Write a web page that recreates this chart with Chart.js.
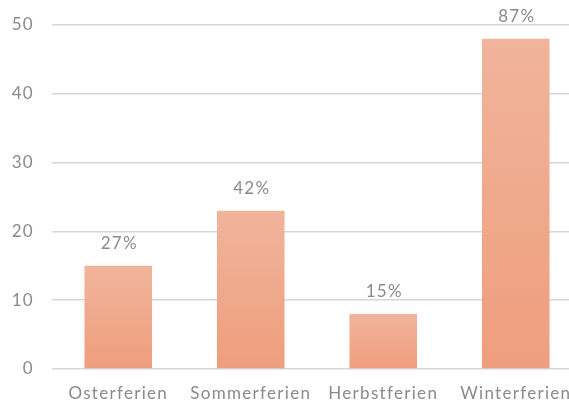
<!DOCTYPE html>
<html lang="de">
<head>
<meta charset="utf-8">
<title>Ferien</title>
<script src="https://cdn.jsdelivr.net/npm/chart.js@4.4.1/dist/chart.umd.min.js"></script>
<style>
  html, body { margin: 0; padding: 0; background: #fff; overflow: hidden; }
  #wrap { width: 569px; height: 406px; overflow: hidden; }
</style>
</head>
<body>
<div id="wrap"><canvas id="ferienChart" width="582" height="406"></canvas></div>
<script>
// ── data ──
const categories = ['Osterferien', 'Sommerferien', 'Herbstferien', 'Winterferien'];
const values = [15, 23, 8, 48];
const percentLabels = ['27%', '42%', '15%', '87%'];
const yTicks = [0, 10, 20, 30, 40, 50];

const textGrey = '#8a8a8a';
const fontFamily = "Lato, 'Open Sans', sans-serif";

// gradient per bar, light at top, darker at the base
function barGradient(context) {
    const chart = context.chart;
    const { ctx, chartArea, scales } = chart;
    if (!chartArea || !scales.y) return '#efa585';
    const top = scales.y.getPixelForValue(context.raw);
    const bottom = scales.y.getPixelForValue(0);
    const g = ctx.createLinearGradient(0, top, 0, bottom);
    g.addColorStop(0, '#f0b49b');
    g.addColorStop(1, '#ef9e7d');
    return g;
}

// wider tracking like the original typeface
const spacingPlugin = {
    id: 'spacing',
    beforeDraw(chart) { chart.ctx.letterSpacing = '1.3px'; }
};

// percentage text above each bar
const percentPlugin = {
    id: 'percentLabels',
    afterDatasetsDraw(chart) {
        const { ctx } = chart;
        const meta = chart.getDatasetMeta(0);
        ctx.save();
        ctx.font = '17px ' + fontFamily;
        ctx.fillStyle = textGrey;
        ctx.textAlign = 'center';
        ctx.textBaseline = 'bottom';
        meta.data.forEach(function (bar, i) {
            ctx.fillText(percentLabels[i], bar.x + 1, bar.y - 14);
        });
        ctx.restore();
    }
};

new Chart(document.getElementById('ferienChart'), {
    type: 'bar',
    data: {
        labels: categories,
        datasets: [{
            data: values,
            backgroundColor: barGradient,
            borderWidth: 0,
            categoryPercentage: 1,
            barPercentage: 0.51
        }]
    },
    options: {
        responsive: false,
        animation: false,
        layout: { padding: { top: 25, left: 0, right: 0, bottom: 0 } },
        plugins: {
            legend: { display: false },
            tooltip: { enabled: false }
        },
        scales: {
            x: {
                grid: { display: false, drawTicks: false },
                border: { display: false },
                ticks: { color: textGrey, font: { family: fontFamily, size: 17 }, padding: 14 },
                afterFit: function (axis) { axis.height = 37; }
            },
            y: {
                min: 0,
                max: 50,
                afterBuildTicks: function (axis) { axis.ticks = yTicks.map(v => ({ value: v })); },
                grid: { color: '#d6d6d6', lineWidth: 1.5, drawTicks: false },
                border: { display: false },
                ticks: { color: textGrey, font: { family: fontFamily, size: 17 }, padding: 18 },
                afterFit: function (axis) {
                    axis.width = 52;
                    axis.paddingTop = 0;
                    axis.paddingBottom = 0;
                }
            }
        }
    },
    plugins: [spacingPlugin, percentPlugin]
});
</script>
</body>
</html>
